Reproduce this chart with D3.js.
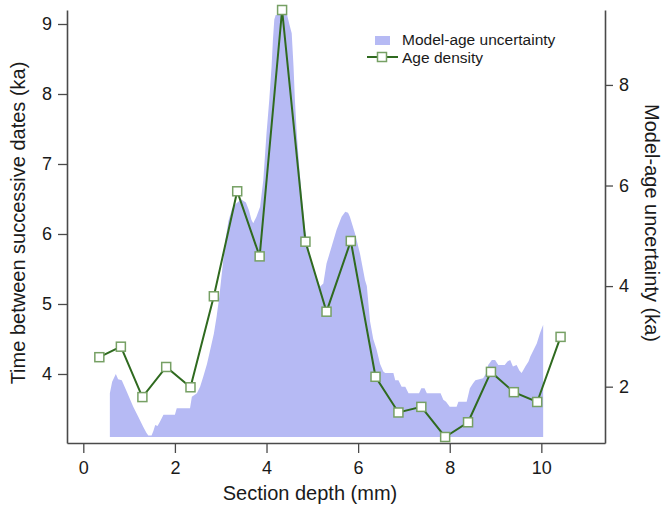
<!DOCTYPE html>
<html>
<head>
<meta charset="utf-8">
<script src="https://cdn.jsdelivr.net/npm/d3@7"></script>
<style>
  html, body { margin: 0; padding: 0; background: #fff; }
  svg { display: block; }
  text { font-family: "Liberation Sans", Arial, sans-serif; fill: #1a1a1a; }
</style>
</head>
<body>
<svg id="chart" width="662" height="507"></svg>
<script>
// ---- Data ----
// Age density (left axis): section depth (mm) vs time between successive dates (ka)
const densityDepth = [0.35, 0.82, 1.29, 1.81, 2.34, 2.85, 3.36, 3.85, 4.34, 4.85, 5.31,
                      5.84, 6.38, 6.88, 7.38, 7.90, 8.40, 8.90, 9.40, 9.91, 10.42];
const densityTime  = [4.24, 4.39, 3.67, 4.10, 3.81, 5.11, 6.61, 5.68, 9.20, 5.89, 4.89,
                      5.90, 3.96, 3.45, 3.53, 3.10, 3.31, 4.03, 3.74, 3.60, 4.53];

// Model-age uncertainty (right axis), ka
const uncertDepth = [0.58, 0.63, 0.71, 0.76, 0.84, 0.95, 1.09, 1.20, 1.31, 1.38, 1.42, 1.49,
  1.53, 1.57, 1.62, 1.67, 1.75, 2.00, 2.04, 2.33, 2.37, 2.48, 2.55, 2.62, 2.70, 2.77, 2.85,
  2.91, 2.97, 3.03, 3.10, 3.17, 3.25, 3.35, 3.45, 3.55, 3.62, 3.67, 3.71, 3.78, 3.86, 3.93,
  4.00, 4.06, 4.11, 4.14, 4.17, 4.20, 4.45, 4.50, 4.55, 4.59, 4.62, 4.66, 4.72, 4.77, 4.84,
  4.95, 5.06, 5.17, 5.24, 5.31, 5.42, 5.53, 5.64, 5.72, 5.78, 5.82, 5.93, 6.04, 6.15, 6.19,
  6.26, 6.33, 6.40, 6.48, 6.55, 6.59, 6.77, 6.81, 6.88, 6.95, 7.03, 7.10, 7.33, 7.38, 7.45,
  7.50, 7.55, 7.80, 7.86, 7.92, 8.00, 8.15, 8.19, 8.37, 8.44, 8.51, 8.56, 8.73, 8.80, 8.84,
  8.92, 8.99, 9.06, 9.20, 9.26, 9.32, 9.38, 9.46, 9.52, 9.57, 9.62, 9.65, 9.72, 9.76, 9.83,
  9.90, 9.97, 10.04];
const uncertValue = [1.87, 2.10, 2.25, 2.15, 2.13, 1.90, 1.60, 1.40, 1.20, 1.08, 1.03, 1.03,
  1.12, 1.24, 1.22, 1.30, 1.44, 1.44, 1.57, 1.57, 1.80, 1.87, 2.00, 2.20, 2.45, 2.73, 3.05,
  3.39, 3.80, 4.30, 4.90, 5.30, 5.55, 5.65, 5.72, 5.66, 5.50, 5.32, 5.25, 5.38, 5.58, 6.11,
  7.04, 7.70, 8.36, 8.90, 9.30, 9.39, 9.39, 9.20, 9.03, 8.36, 7.70, 7.04, 6.30, 5.78, 5.12,
  4.59, 4.26, 3.99, 4.05, 4.45, 4.78, 5.12, 5.38, 5.48, 5.46, 5.38, 5.05, 4.65, 4.12, 4.00,
  3.30, 2.95, 2.75, 2.45, 2.30, 2.27, 2.27, 2.13, 2.13, 2.00, 2.00, 1.87, 1.87, 1.97, 1.97,
  1.87, 1.87, 1.87, 1.74, 1.70, 1.60, 1.60, 1.70, 1.70, 1.97, 2.07, 2.13, 2.17, 2.27, 2.43,
  2.53, 2.53, 2.43, 2.43, 2.50, 2.53, 2.40, 2.43, 2.32, 2.27, 2.35, 2.40, 2.50, 2.60, 2.73,
  2.86, 3.06, 3.23];
const uncertBase = 1.0;

const xTicks = [0, 2, 4, 6, 8, 10];
const leftTicks = [4, 5, 6, 7, 8, 9];
const rightTicks = [2, 4, 6, 8];

const legendLabels = ["Model-age uncertainty", "Age density"];
const xTitle = "Section depth (mm)";
const leftTitle = "Time between successive dates (ka)";
const rightTitle = "Model-age uncertainty (ka)";

// ---- Layout ----
const W = 662, H = 507;
const m = { left: 67, right: 57, top: 10, bottom: 64 };
const svg = d3.select("#chart");

const x = d3.scaleLinear().domain([-0.356, 11.39]).range([m.left, W - m.right]);
const yL = d3.scaleLinear().domain([3.014, 9.2]).range([H - m.bottom, m.top]);
const yR = d3.scaleLinear().domain([0.88, 9.49]).range([H - m.bottom, m.top]);

const areaColor = "#b6baf4";
const lineColor = "#2f6a1f";
const markerStroke = "#76a064";
const axisColor = "#4a4a4a";

// ---- Area ----
const uData = uncertDepth.map((d, i) => ({ x: d, y: uncertValue[i] }));
svg.append("path")
  .datum(uData)
  .attr("fill", areaColor)
  .attr("d", d3.area().x(d => x(d.x)).y0(yR(uncertBase)).y1(d => yR(d.y)));

// ---- Line + markers ----
const dData = densityDepth.map((d, i) => ({ x: d, y: densityTime[i] }));
svg.append("path")
  .datum(dData)
  .attr("fill", "none")
  .attr("stroke", lineColor)
  .attr("stroke-width", 2)
  .attr("d", d3.line().x(d => x(d.x)).y(d => yL(d.y)));

const ms = 9;
svg.append("g").selectAll("rect").data(dData).join("rect")
  .attr("x", d => x(d.x) - ms / 2)
  .attr("y", d => yL(d.y) - ms / 2)
  .attr("width", ms).attr("height", ms)
  .attr("fill", "#fff")
  .attr("stroke", markerStroke)
  .attr("stroke-width", 1.5);

// ---- Axes ----
function styleAxis(g) {
  g.selectAll("path.domain").attr("stroke", axisColor).attr("stroke-width", 1.6);
  g.selectAll(".tick line").attr("stroke", axisColor).attr("stroke-width", 1.3);
  g.selectAll(".tick text").style("font-family", '"Liberation Sans", Arial, sans-serif')
    .attr("font-size", 18).attr("fill", "#1a1a1a");
}

const fmt = d3.format("d");

const gx = svg.append("g")
  .attr("transform", `translate(0,${H - m.bottom})`)
  .call(d3.axisBottom(x).tickValues(xTicks).tickFormat(fmt).tickSize(10).tickSizeOuter(0).tickPadding(8));
styleAxis(gx);

const gl = svg.append("g")
  .attr("transform", `translate(${m.left},0)`)
  .call(d3.axisLeft(yL).tickValues(leftTicks).tickFormat(fmt).tickSize(9).tickSizeOuter(0).tickPadding(6));
styleAxis(gl);

const gr = svg.append("g")
  .attr("transform", `translate(${W - m.right},0)`)
  .call(d3.axisRight(yR).tickValues(rightTicks).tickFormat(fmt).tickSize(8).tickSizeOuter(0).tickPadding(6));
styleAxis(gr);

// ---- Titles ----
svg.append("text")
  .attr("x", 310).attr("y", 500)
  .attr("text-anchor", "middle")
  .attr("font-size", 20)
  .text(xTitle);

svg.append("text")
  .attr("transform", `translate(25,223) rotate(-90)`)
  .attr("text-anchor", "middle")
  .attr("font-size", 20)
  .text(leftTitle);

svg.append("text")
  .attr("transform", `translate(645,223) rotate(90)`)
  .attr("text-anchor", "middle")
  .attr("font-size", 20)
  .text(rightTitle);

// ---- Legend ----
const lg = svg.append("g");
lg.append("rect").attr("x", 375).attr("y", 36).attr("width", 15).attr("height", 9)
  .attr("fill", areaColor);
lg.append("text").attr("x", 402).attr("y", 45).attr("font-size", 15.5).text(legendLabels[0]);
lg.append("line").attr("x1", 367).attr("x2", 398).attr("y1", 57).attr("y2", 57)
  .attr("stroke", lineColor).attr("stroke-width", 2);
lg.append("rect").attr("x", 382 - ms / 2).attr("y", 57 - ms / 2).attr("width", ms).attr("height", ms)
  .attr("fill", "#fff").attr("stroke", markerStroke).attr("stroke-width", 1.5);
lg.append("text").attr("x", 402).attr("y", 63).attr("font-size", 15.5).text(legendLabels[1]);
</script>
</body>
</html>
